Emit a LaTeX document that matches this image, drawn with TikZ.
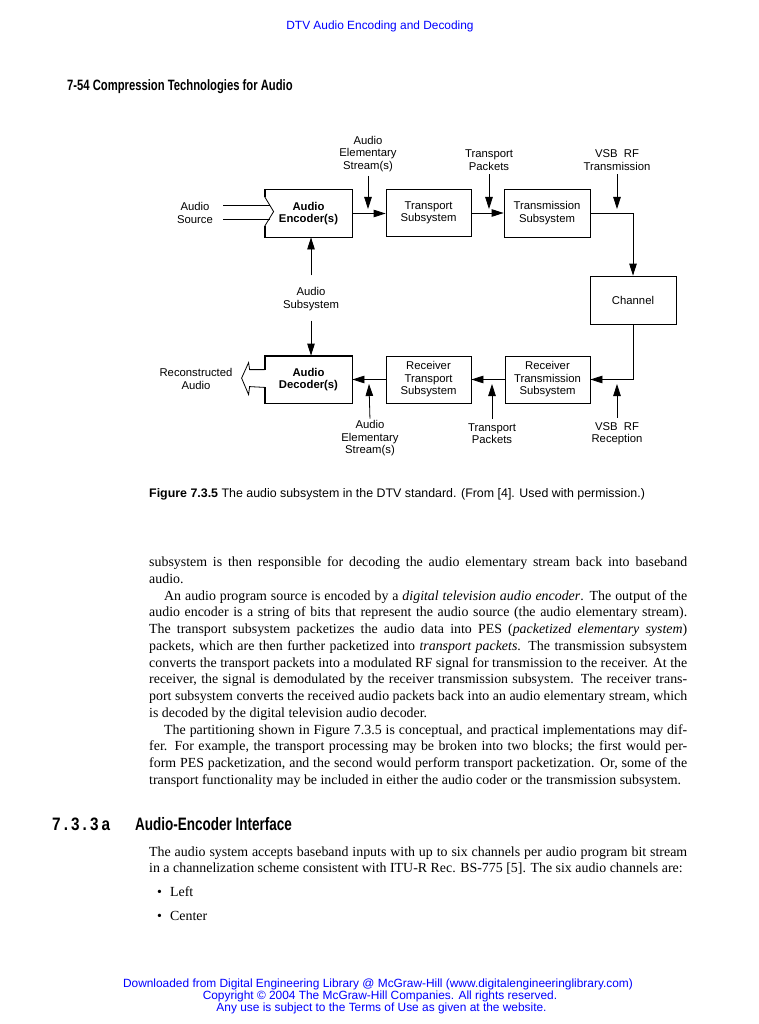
\documentclass[tikz,border=0pt]{standalone}
\usepackage{fontspec}
\setmainfont{Liberation Serif}
\setsansfont{Liberation Sans}
\newfontfamily\condfont[FakeStretch=0.75]{Liberation Sans}
\newfontfamily\condnumfont[FakeStretch=0.85]{Liberation Sans}
\usetikzlibrary{arrows.meta,calc}
\definecolor{linkblue}{RGB}{0,0,255}
\begin{document}
\begin{tikzpicture}[x=1pt,y=-1pt,
  dfont/.style={font=\sffamily\fontsize{11.3}{12.5}\selectfont},
  box/.style={draw, line width=0.8pt, minimum width=85pt, minimum height=47pt,
    inner sep=0pt, align=center, dfont},
  boldbox/.style={box, draw=none, minimum width=87pt,
    font=\sffamily\bfseries\fontsize{11.3}{12.5}\selectfont},
  lbl/.style={align=center, inner sep=0pt, dfont},
  arr/.style={-{Triangle[length=12pt,width=7.5pt]}, line width=0.8pt},
  ln/.style={line width=0.8pt},
  thick border/.style={line width=1.8pt, line join=miter},
  bodytext/.style={anchor=base west, inner sep=0pt, font=\fontsize{13.9}{16.77}\selectfont},
  blue text/.style={inner sep=0pt, text=linkblue, font=\sffamily\fontsize{11.9}{12}\selectfont},
  headfont/.style={inner sep=0pt, anchor=base west, font=\condfont\bfseries\fontsize{15}{16}\selectfont},
]
\useasboundingbox[fill=white] (0,0) rectangle (759,1024);

% ---------- page header ----------
\node[blue text, anchor=base] (hdr) at (380,30) {DTV Audio Encoding and Decoding};
\node[headfont] (runhead) at (67,90.5) {7-54 Compression Technologies for Audio};

% ---------- diagram blocks ----------
\node[boldbox] (enc) at (308.5,213.5) {Audio\\Encoder(s)};
\node[box] (tr) at (428.5,213) {Transport\\Subsystem};
\node[box, minimum width=86pt, minimum height=48pt] (tx) at (547,213) {Transmission\\Subsystem};
\node[box, minimum width=86pt, minimum height=48pt] (ch) at (633,300) {Channel};
\node[box] (rtx) at (547.5,379.5) {Receiver\\Transmission\\Subsystem};
\node[box] (rtr) at (428.5,379.5) {Receiver\\Transport\\Subsystem};
\node[boldbox] (dec) at (308.5,379.5) {Audio\\Decoder(s)};

% encoder outline with input notch
\draw[thick border] ([yshift=-7pt]enc.north west) -- (enc.north west) -- (enc.north east)
  -- (enc.south east) -- (enc.south west) -- ([yshift=11pt]enc.south west);
\draw[ln] ([yshift=-7pt]enc.north west) -- ([xshift=9pt,yshift=-22pt]enc.north west)
  -- ([yshift=11pt]enc.south west);

% decoder outline with hollow output arrow
\draw[thick border] ([yshift=-14pt]dec.north west) -- (dec.north west) -- (dec.north east)
  -- (dec.south east) -- (dec.south west) -- ([yshift=16pt]dec.south west);
\draw[ln, line join=miter] ([yshift=-14pt]dec.north west) -- ++(-15,0) -- ++(-1,-7)
  -- ++(-7,15.5) -- ++(7,16.5) -- ++(1,-8) -- ([yshift=16pt]dec.south west);

% ---------- side labels ----------
\node[lbl] (src) at (195,213) {Audio\\Source};
\coordinate (src1) at (223,205);
\coordinate (src2) at (223,219);
\coordinate (ench1) at (269.8,205);
\coordinate (ench2) at (269.5,219);
\draw[ln] (src1) -- (ench1);
\draw[ln] (src2) -- (ench2);

\node[lbl] (rec) at (196,379) {Reconstructed\\Audio};

% ---------- main connectors ----------
\draw[arr] (enc.east) -- (enc.east -| tr.west);
\draw[arr] (tr.east) -- (tx.west);
\draw[arr] (tx.east) -| (ch.north);
\draw[arr] (ch.south) |- (rtx.east);
\draw[arr] (rtx.west) -- (rtr.east);
\draw[arr] (rtr.west) -- (rtr.west -| dec.east);

% ---------- top labels ----------
\node[lbl] (aes1) at (368,154) {Audio\\Elementary\\Stream(s)};
\node[lbl] (tp1) at (489,160) {Transport\\Packets};
\node[lbl] (vsb1) at (617,160) {VSB\ \ RF\\Transmission};
\coordinate (aes1e) at (368,209);
\coordinate (tp1e) at (489,209);
\coordinate (vsb1e) at (617,209);
\draw[arr, shorten <=4pt] (aes1.south) -- (aes1e);
\draw[arr, shorten <=4pt] (tp1.south) -- (tp1e);
\draw[arr, shorten <=4pt] (vsb1.south) -- (vsb1e);

% ---------- audio subsystem ----------
\node[lbl] (asub) at (311,299) {Audio\\Subsystem};
\draw[arr, shorten <=12pt] (asub.north) -- (asub.north |- enc.south);
\draw[arr, shorten <=10pt] (asub.south) -- (asub.south |- dec.north);

% ---------- bottom labels ----------
\node[lbl] (aes2) at (370,438.5) {Audio\\Elementary\\Stream(s)};
\node[lbl] (tp2) at (492,433.5) {Transport\\Packets};
\node[lbl] (vsb2) at (617,433.5) {VSB\ \ RF\\Reception};
\coordinate (aes2e) at (369,384);
\coordinate (tp2e) at (492,384);
\coordinate (vsb2e) at (617,384);
\draw[arr, shorten <=2pt] (aes2.north) -- (aes2e);
\draw[arr, shorten <=4pt] (tp2.north) -- (tp2e);
\draw[arr, shorten <=4pt] (vsb2.north) -- (vsb2e);

% ---------- caption ----------
\node[anchor=base west, inner sep=0pt, font=\sffamily\fontsize{12.4}{13}\selectfont] (cap) at (149,497)
  {\textbf{Figure 7.3.5} The audio subsystem in the DTV standard. (From [4]. Used with permission.)};

% ---------- body text ----------
\node[bodytext] (body) at (149,566.5) {\parbox[t]{538pt}{%
\fontsize{13.9}{16.77}\selectfont
\spaceskip=0.25em plus 0.35em minus 0.12em
\tolerance=10000 \hyphenpenalty=10000 \emergencystretch=10pt
\setlength{\parindent}{15pt}%
\noindent subsystem is then responsible for decoding the audio elementary stream back into baseband\linebreak
audio.\par
An audio program source is encoded by a \textit{digital television audio encoder}. The output of the\linebreak
audio encoder is a string of bits that represent the audio source (the audio elementary stream).\linebreak
The transport subsystem packetizes the audio data into PES (\textit{packetized elementary system})\linebreak
packets, which are then further packetized into \textit{transport packets}. The transmission subsystem\linebreak
converts the transport packets into a modulated RF signal for transmission to the receiver. At the\linebreak
receiver, the signal is demodulated by the receiver transmission subsystem. The receiver trans-\linebreak
port subsystem converts the received audio packets back into an audio elementary stream, which\linebreak
is decoded by the digital television audio decoder.\par
The partitioning shown in Figure 7.3.5 is conceptual, and practical implementations may dif-\linebreak
fer. For example, the transport processing may be broken into two blocks; the first would per-\linebreak
form PES packetization, and the second would perform transport packetization. Or, some of the\linebreak
transport functionality may be included in either the audio coder or the transmission subsystem.\par}};

% ---------- section heading ----------
\node[headfont, font=\condnumfont\bfseries\fontsize{18}{19}\selectfont] (secnum) at (52,830.5)
  {\makebox[58pt][l]{7\hfill.\hfill3\hfill.\hfill3\hfill a}};
\node[headfont, font=\condfont\bfseries\fontsize{18}{19}\selectfont] (sectitle) at (135,830.5)
  {Audio-Encoder Interface};

\node[bodytext] (body2) at (149,856) {\parbox[t]{538pt}{%
\fontsize{13.9}{16.3}\selectfont
\spaceskip=0.25em plus 0.35em minus 0.12em
\tolerance=10000 \hyphenpenalty=10000
\noindent The audio system accepts baseband inputs with up to six channels per audio program bit stream\linebreak
in a channelization scheme consistent with ITU-R Rec. BS-775 [5]. The six audio channels are:\par}};

\node[bodytext] (b1) at (157,896) {•};
\node[bodytext] (left) at (170,896) {Left};
\node[bodytext] (b2) at (157,920) {•};
\node[bodytext] (center) at (170,920) {Center};

% ---------- footer ----------
\node[blue text, anchor=base] (f1) at (378,987) {Downloaded from Digital Engineering Library @ McGraw-Hill (www.digitalengineeringlibrary.com)};
\node[blue text, anchor=base] (f2) at (380,999) {Copyright © 2004 The McGraw-Hill Companies. All rights reserved.};
\node[blue text, anchor=base] (f3) at (381.5,1011) {Any use is subject to the Terms of Use as given at the website.};
\end{tikzpicture}
\end{document}
